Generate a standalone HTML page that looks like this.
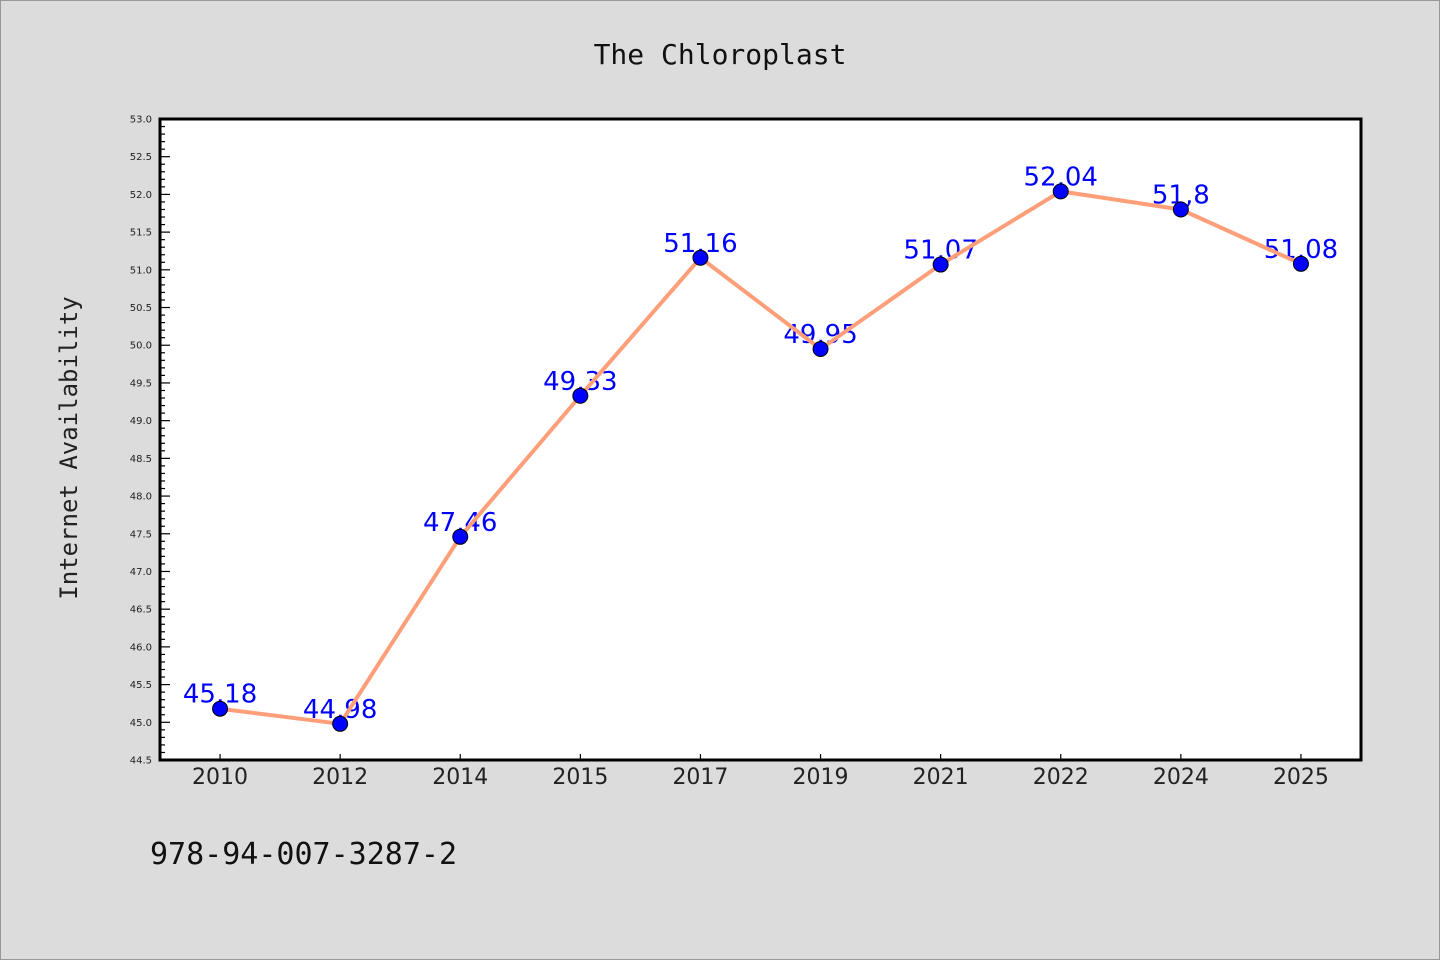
<!DOCTYPE html>
<html><head><meta charset="utf-8"><style>
body{margin:0;background:#dcdcdc;}
svg{display:block;font-family:"DejaVu Sans","Liberation Sans",sans-serif;}
</style></head><body>
<svg width="1440" height="960">
<rect x="0.5" y="0.5" width="1439" height="959" fill="#dcdcdc" stroke="#999"/>
<text x="720" y="64" text-anchor="middle" font-size="28" font-family="DejaVu Sans Mono,Liberation Mono,monospace" fill="#111">The Chloroplast</text>
<rect x="160" y="119" width="1201" height="641" fill="#fff"/>
<g id="yaxis"></g>
<g id="xaxis"></g>
<g id="labels"></g>
<g id="series"></g>
<rect x="160" y="119" width="1201" height="641" fill="none" stroke="#000" stroke-width="3"/>
<text x="77" y="448" transform="rotate(-90 77 448)" text-anchor="middle" font-size="24" font-family="DejaVu Sans Mono,Liberation Mono,monospace" fill="#222">Internet Availability</text>
<text x="150" y="864" font-size="30" font-family="DejaVu Sans Mono,Liberation Mono,monospace" fill="#111">978-94-007-3287-2</text>
</svg>
<script>
const categories=["2010","2012","2014","2015","2017","2019","2021","2022","2024","2025"];
const values=[45.18,44.98,47.46,49.33,51.16,49.95,51.07,52.04,51.8,51.08];
const valueLabels=["45,18","44,98","47,46","49,33","51,16","49,95","51,07","52,04","51,8","51,08"];
const yTicks=[44.5,45.0,45.5,46.0,46.5,47.0,47.5,48.0,48.5,49.0,49.5,50.0,50.5,51.0,51.5,52.0,52.5,53.0];
const NS="http://www.w3.org/2000/svg";
const L=160,R=1361,T=119,B=760,yMin=44.5,yMax=53.0;
const y=v=>B-(v-yMin)/(yMax-yMin)*(B-T);
const x=i=>L+(i+0.5)*(R-L)/categories.length;
function mk(tag,attrs,parent){const e=document.createElementNS(NS,tag);for(const k in attrs)e.setAttribute(k,attrs[k]);parent.appendChild(e);return e;}
const ya=document.getElementById('yaxis'),xa=document.getElementById('xaxis'),lg=document.getElementById('labels'),sg=document.getElementById('series');
for(let k=0;k<=Math.round((yMax-yMin)*10);k++){
 const v=yMin+k*0.1,yy=y(v),major=k%5===0;
 const t=mk('line',{x1:L,x2:L+(major?10:5),y1:yy,y2:yy,stroke:'#000','stroke-width':1.2},ya);
 
 
}
yTicks.forEach(v=>{
 const t=mk('text',{x:152,y:y(v)+3.5,'text-anchor':'end','font-size':10,fill:'#222'},ya);
 t.textContent=v.toFixed(1);
 
 
});
categories.forEach((c,i)=>{
 const t=mk('line',{x1:x(i),x2:x(i),y1:B,y2:B-6,stroke:'#000','stroke-width':1.2},xa);
 
 
 const s=mk('text',{x:x(i),y:784,'text-anchor':'middle','font-size':22,fill:'#222'},xa);
 s.textContent=c;
 
 
});
values.forEach((v,i)=>{
 const t=mk('text',{x:x(i),y:y(v)-6,'text-anchor':'middle','font-size':26,fill:'#0000ff'},lg);
 t.textContent=valueLabels[i];
 
 
});
const pl=mk('polyline',{points:values.map((v,i)=>x(i)+','+y(v)).join(' '),fill:'none',stroke:'#ff9f7a','stroke-width':4,'stroke-linejoin':'round'},sg);


values.forEach((v,i)=>{
 const c=mk('circle',{cx:x(i),cy:y(v),r:7.5,fill:'#0000ff',stroke:'#000','stroke-width':1},sg);
 
 
});
</script>
</body></html>
